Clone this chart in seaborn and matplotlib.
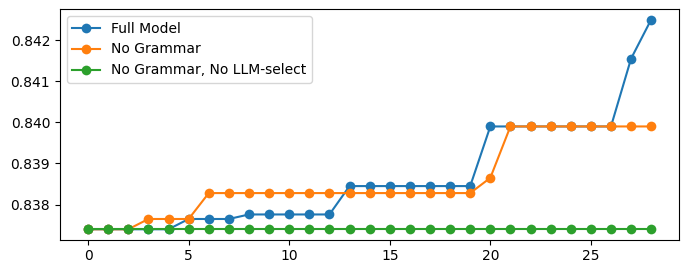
import pandas as pd
import seaborn as sns
import matplotlib.pyplot as plt

# iteration index and best score per configuration
steps = list(range(29))
full_model = [0.83740] * 5 + [0.83765] * 3 + [0.83776] * 5 + [0.83845] * 7 + [0.83990] * 7 + [0.84155, 0.84250]
no_grammar = [0.83740] * 3 + [0.83765] * 3 + [0.83828] * 14 + [0.83865] + [0.83990] * 8
no_grammar_no_llm = [0.83740] * 29

df = pd.DataFrame({
    'step': steps * 3,
    'score': full_model + no_grammar + no_grammar_no_llm,
    'model': ['Full Model'] * 29 + ['No Grammar'] * 29 + ['No Grammar, No LLM-select'] * 29,
})

fig, ax = plt.subplots(figsize=(6.89, 2.74), dpi=100)
sns.lineplot(data=df, x='step', y='score', hue='model', marker='o', markersize=7,
             markeredgewidth=0, palette=['#1f77b4', '#ff7f0e', '#2ca02c'], ax=ax)
ax.set_xlabel('')
ax.set_ylabel('')
ax.legend(loc='upper left')
ax.set_yticks([0.838, 0.839, 0.840, 0.841, 0.842])
fig.subplots_adjust(left=0.087, right=0.986, top=0.967, bottom=0.125)
plt.savefig('out.png')
